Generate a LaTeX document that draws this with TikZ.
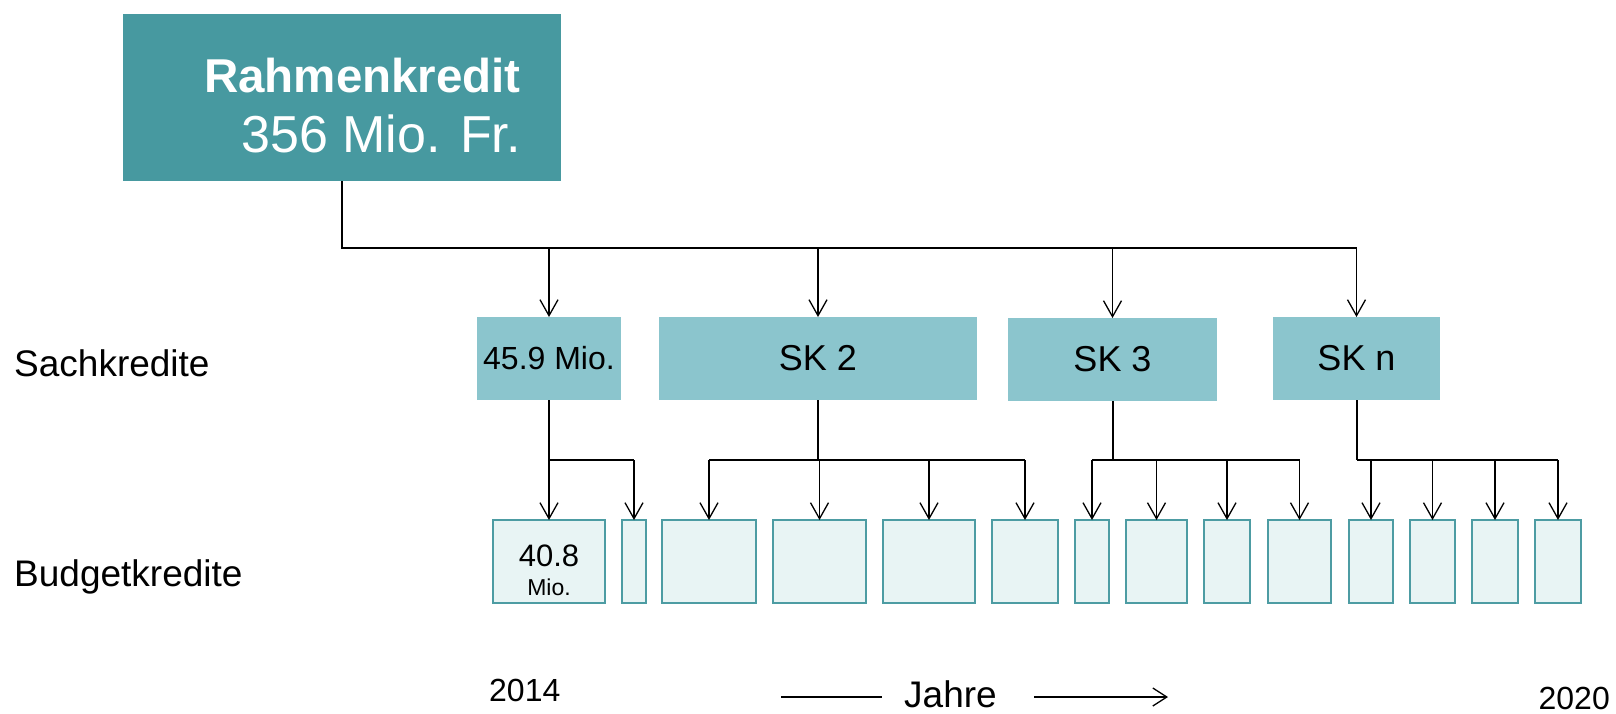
\documentclass[tikz,border=0pt]{standalone}
\usepackage{fontspec}
\setmainfont{Liberation Sans}
\usetikzlibrary{arrows.meta}
\definecolor{darkteal}{HTML}{4799A0}
\definecolor{midteal}{HTML}{8BC5CD}
\definecolor{lightteal}{HTML}{E8F4F4}
\definecolor{edgeteal}{HTML}{4D9CA3}
\newcommand{\fs}[1]{\fontsize{#1}{#1}\selectfont}
\begin{document}
\begin{tikzpicture}[x=1pt,y=-1pt,
  topbox/.style={fill=darkteal, inner sep=0pt, outer sep=0pt, anchor=north west},
  skbox/.style={fill=midteal, inner sep=0pt, outer sep=0pt, anchor=north west, font=\fs{36}},
  bkbox/.style={fill=lightteal, draw=edgeteal, line width=2pt, inner sep=0pt, outer sep=0pt, anchor=north west, minimum height=83pt},
  trunk/.style={line width=2pt, black},
  busline/.style={line width=1.4pt, black},
  arr/.style={line width=1.3pt, black, -{Straight Barb[length=16pt,width=18pt,line width=1.3pt]}},
  lbl/.style={inner sep=0pt, font=\fs{37}}]
\useasboundingbox (0,0) rectangle (1616,713);
% top box
\node[topbox, minimum width=438pt, minimum height=167pt] (top) at (123,14) {};
\node[inner sep=0pt, anchor=base east, text=white, font=\fs{47.5}\bfseries] (rk) at (521,92) {Rahmenkredit};
\node[inner sep=0pt, anchor=base east, text=white, font=\fs{52}] (rkv) at (521,152) {356 Mio. Fr.};
% Sachkredite
\node[skbox, minimum width=144pt, minimum height=83pt, font=\fs{32}] (s1) at (477,317) {45.9 Mio.};
\node[skbox, minimum width=318pt, minimum height=83pt] (s2) at (659,317) {SK 2};
\node[skbox, minimum width=209pt, minimum height=83pt] (s3) at (1008,318) {SK 3};
\node[skbox, minimum width=167pt, minimum height=83pt] (s4) at (1273,317) {SK n};
% Budgetkredite
\node[bkbox, minimum width=112pt] (b1) at (493,520) {};
\node[bkbox, minimum width=24pt] (b2) at (622,520) {};
\node[bkbox, minimum width=94pt] (b3) at (662,520) {};
\node[bkbox, minimum width=93pt] (b4) at (773,520) {};
\node[bkbox, minimum width=92pt] (b5) at (883,520) {};
\node[bkbox, minimum width=66pt] (b6) at (992,520) {};
\node[bkbox, minimum width=34pt] (b7) at (1075,520) {};
\node[bkbox, minimum width=61pt] (b8) at (1126,520) {};
\node[bkbox, minimum width=46pt] (b9) at (1204,520) {};
\node[bkbox, minimum width=63pt] (b10) at (1268,520) {};
\node[bkbox, minimum width=44pt] (b11) at (1349,520) {};
\node[bkbox, minimum width=45pt] (b12) at (1410,520) {};
\node[bkbox, minimum width=46pt] (b13) at (1472,520) {};
\node[bkbox, minimum width=46pt] (b14) at (1535,520) {};
\node[inner sep=0pt, anchor=base, font=\fs{31}] (v1) at (b1.center |- 0,566) {40.8};
\node[inner sep=0pt, anchor=base, font=\fs{23}] (v2) at (b1.center |- 0,595) {Mio.};
% row labels
\node[lbl, anchor=west] (lsk) at (14,363) {Sachkredite};
\node[lbl, anchor=west] (lbk) at (14,577) {Budgetkredite};
% top connectors
\coordinate (bus) at (0,248);
\draw[trunk] (top.south) |- (s1.north |- bus);
\draw[busline] (s1.north |- bus) -- (s4.north |- bus);
\foreach \s in {s1,s2,s3,s4} \draw[arr] (\s.north |- bus) -- (\s.north);
% sub connectors
\coordinate (sub) at (0,460);
\draw[trunk] (s1.south) -- (s1.south |- sub);
\draw[busline] (s1.south |- sub) -- (b2.north |- sub);
\foreach \b in {b1,b2} \draw[arr] (\b.north |- sub) -- (\b.north);
\draw[trunk] (s2.south) -- (s2.south |- sub);
\draw[busline] (b3.north |- sub) -- (b6.north |- sub);
\foreach \b in {b3,b4,b5,b6} \draw[arr] (\b.north |- sub) -- (\b.north);
\draw[trunk] (s3.south) -- (s3.south |- sub);
\draw[busline] (b7.north |- sub) -- (b10.north |- sub);
\foreach \b in {b7,b8,b9,b10} \draw[arr] (\b.north |- sub) -- (\b.north);
\draw[trunk] (s4.south) -- (s4.south |- sub);
\draw[busline] (s4.south |- sub) -- (b14.north |- sub);
\foreach \b in {b11,b12,b13,b14} \draw[arr] (\b.north |- sub) -- (\b.north);
% timeline
\node[inner sep=0pt, anchor=base west, font=\fs{32}] (y1) at (489,701) {2014};
\node[inner sep=0pt, anchor=base west, font=\fs{37}] (jahre) at (904,707) {Jahre};
\node[inner sep=0pt, anchor=base east, font=\fs{32}] (y2) at (1610,709) {2020};
\coordinate (tl1) at (781,697);
\coordinate (tr2) at (1168,697);
\draw[line width=1.3pt] (tl1) -- (tl1 -| 882,0);
\draw[line width=1.3pt, -{Straight Barb[length=14pt,width=18pt,line width=1.3pt]}] (1034,697) -- (tr2);
\end{tikzpicture}
\end{document}
